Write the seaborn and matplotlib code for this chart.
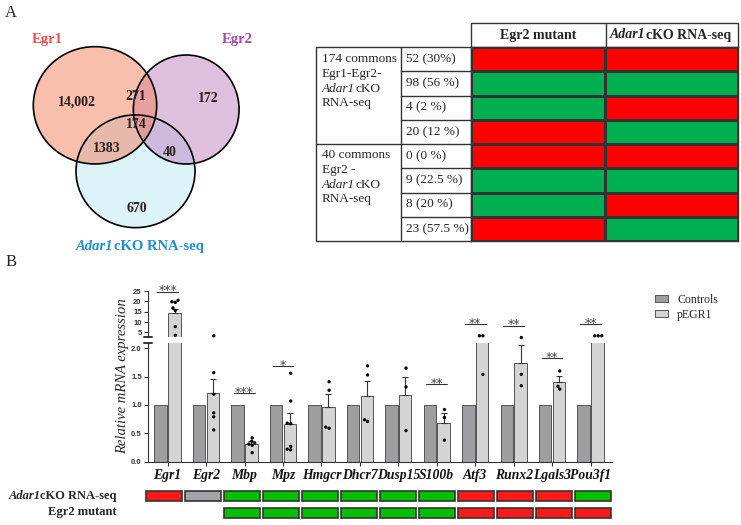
import numpy as np
import pandas as pd
import seaborn as sns
import matplotlib.pyplot as plt
from matplotlib.patches import Ellipse, Rectangle
from matplotlib.colors import ListedColormap, to_rgba

sns.set_style('ticks')
plt.rcParams['font.family'] = ['Liberation Serif', 'DejaVu Serif']

# ---------------- data ----------------
# Venn (A, left)
venn_names = ['Egr1', 'Egr2', 'Adar1cKO RNA-seq']
venn_regions = ['Egr1', 'Egr1&Egr2', 'Egr2', 'all', 'Egr1&Adar1', 'Egr2&Adar1', 'Adar1']
venn_counts = ['14,002', '271', '172', '174', '1383', '40', '670']

# table (A, right)
table_counts = ['52 (30%)', '98 (56 %)', '4 (2 %)', '20 (12 %)',
                '0 (0 %)', '9 (22.5 %)', '8 (20 %)', '23 (57.5 %)']
table_cols = ['Egr2 mutant', 'Adar1cKO RNA-seq']
table_egr2_mut = ['up', 'down', 'down', 'up', 'up', 'down', 'down', 'up']
table_adar1 = ['up', 'down', 'up', 'down', 'up', 'down', 'up', 'down']

# qPCR (B)
genes = ['Egr1', 'Egr2', 'Mbp', 'Mpz', 'Hmgcr', 'Dhcr7', 'Dusp15', 'S100b',
         'Atf3', 'Runx2', 'Lgals3', 'Pou3f1']
groups = ['Controls', 'pEGR1']
ctrl_mean = [1.0, 1.0, 1.0, 1.0, 1.0, 1.0, 1.0, 1.0, 1.0, 1.0, 1.0, 1.0]
pegr1_mean = [14.3, 1.21, 0.31, 0.66, 0.97, 1.16, 1.18, 0.69, 3.0, 1.74, 1.40, 3.0]
pegr1_sem = [1.8, 0.25, 0.05, 0.20, 0.22, 0.26, 0.32, 0.16, 0.5, 0.31, 0.11, 0.5]
# 2.22 = point drawn at the axis break (off scale)
pegr1_points = [
    [20.5, 19.5, 19.8, 16.8, 15.6, 7.8, 3.6],
    [2.22, 1.57, 1.19, 0.86, 0.79, 0.56],
    [0.42, 0.36, 0.33, 0.31, 0.29, 0.16],
    [1.56, 1.07, 0.68, 0.67, 0.27, 0.22, 0.21],
    [1.41, 1.26, 0.59, 0.61],
    [1.69, 1.53, 0.71, 0.74],
    [1.65, 1.32, 0.55],
    [0.92, 0.78, 0.38],
    [2.22, 2.22, 1.54],
    [2.19, 1.54, 1.34],
    [1.60, 1.33, 1.28],
    [2.22, 2.22, 2.22],
]
sig_stars = ['***', '', '***', '*', '', '', '', '**', '**', '**', '**', '**']
sig_y = [24.7, None, 1.21, 1.68, None, None, None, 1.365, 2.43, 2.40, 1.82, 2.43]

# regulation strips under B
strip_rows = ['Adar1cKO RNA-seq', 'Egr2 mutant']
strip_adar1 = ['up', 'na', 'down', 'down', 'down', 'down', 'down', 'down',
               'up', 'up', 'up', 'down']
strip_egr2 = [None, None, 'down', 'down', 'down', 'down', 'down', 'down',
              'up', 'up', 'up', 'up']

W, H = 741, 525
fig = plt.figure(figsize=(W / 100, H / 100), dpi=100)


def px_axes(x0, y0, x1, y1):
    # axes from pixel box (top-left origin)
    return fig.add_axes([x0 / W, 1 - y1 / H, (x1 - x0) / W, (y1 - y0) / H])


# overlay in pixel coordinates for the venn / table frame / labels
ov = fig.add_axes([0, 0, 1, 1])
ov.set_xlim(0, W)
ov.set_ylim(H, 0)
ov.axis('off')


def mixed(x, y, parts, ha='left', va='center', **kw):
    # parts: list of (text, fontstyle); baselines kept aligned
    if ha == 'left':
        t = ov.text(x, y, parts[0][0], style=parts[0][1], ha='left', va=va, **kw)
        for txt, st in parts[1:]:
            t = ov.annotate(txt, xy=(1, 0), xycoords=t, style=st, ha='left', va='bottom', **kw)
    else:
        t = ov.text(x, y, parts[-1][0], style=parts[-1][1], ha='right', va=va, **kw)
        for txt, st in parts[-2::-1]:
            t = ov.annotate(txt, xy=(0, 0), xycoords=t, style=st, ha='right', va='bottom', **kw)


ov.text(11, 13, 'A', fontsize=12, ha='center', va='center')
ov.text(11, 262, 'B', fontsize=12, ha='center', va='center')

# ---- Venn ----
# drawn bottom to top: Adar1, Egr2, Egr1
circles = [((135.5, 171.3), 119, 112.7, '#bbe9f5'),
           ((186.2, 109.5), 105.7, 109, '#bf81bf'),
           ((95, 105.3), 123.4, 117.3, '#f3815d')]
for (c, w, h, col) in circles:
    ov.add_patch(Ellipse(c, w, h, facecolor=to_rgba(col, 0.5), edgecolor='none'))
for (c, w, h, col) in circles:
    ov.add_patch(Ellipse(c, w, h, fill=False, edgecolor='black', lw=1.2))

ov.text(47, 40, venn_names[0], color='#f04e4e', fontsize=10.5, weight='bold', ha='center', va='center')
ov.text(237, 40, venn_names[1], color='#a64ca6', fontsize=10.5, weight='bold', ha='center', va='center')
mixed(76, 246.5, [('Adar1', 'italic'), ('cKO RNA-seq', 'normal')],
      color='#1e8fd8', fontsize=10.5, weight='bold')

venn_pos = [(77, 102), (136, 97), (208, 98), (136, 125), (107, 148), (170, 152), (137, 208)]
for (x, y), s in zip(venn_pos, venn_counts):
    ov.text(x, y, s, fontsize=10, weight='bold', color='#2a1f1f', ha='center', va='center')

# ---- table ----
tx0, tx1, tx2, tx3 = 316, 401, 471, 738
ty_head, ty0, ty1 = 23, 47, 241
row_h = (ty1 - ty0) / len(table_counts)
lc = '#333333'
ov.add_patch(Rectangle((tx0, ty0), tx2 - tx0, ty1 - ty0, fill=False, ec=lc, lw=1))
ov.add_patch(Rectangle((tx2, ty_head), tx3 - tx2, ty0 - ty_head, fill=False, ec=lc, lw=1))
ov.plot([tx1, tx1], [ty0, ty1], color=lc, lw=1)
ov.plot([606, 606], [ty_head, ty0], color=lc, lw=1)
for k in range(1, len(table_counts)):
    y = ty0 + k * row_h
    ov.plot([tx0 if k == 4 else tx1, tx2], [y, y], color=lc, lw=1)
for k, s in enumerate(table_counts):
    ov.text(406, ty0 + (k + 0.5) * row_h, s, fontsize=9.5, ha='left', va='center')

ov.text(538.5, 35, table_cols[0], fontsize=10, weight='bold', ha='center', va='center')
mixed(610, 35, [('Adar1', 'italic'), ('cKO RNA-seq', 'normal')], fontsize=10, weight='bold')

for y0, first, second in [(59.5, '174 commons', 'Egr1-Egr2-'), (155.5, '40 commons', 'Egr2 -')]:
    ov.text(322, y0, first, fontsize=9.5, va='center')
    ov.text(322, y0 + 14.5, second, fontsize=9.5, va='center')
    mixed(322, y0 + 29, [('Adar1', 'italic'), ('cKO', 'normal')], fontsize=9.5)
    ov.text(322, y0 + 43.5, 'RNA-seq', fontsize=9.5, va='center')

ax_tab = px_axes(tx2, ty0, tx3, ty1)
mat = pd.DataFrame({table_cols[0]: [1 if v == 'up' else 0 for v in table_egr2_mut],
                    table_cols[1]: [1 if v == 'up' else 0 for v in table_adar1]})
sns.heatmap(mat, cmap=ListedColormap(['#00b050', '#ff0000']), vmin=0, vmax=1, cbar=False,
            linewidths=0.8, linecolor=lc, xticklabels=False, yticklabels=False, ax=ax_tab)
for s in ax_tab.spines.values():
    s.set_visible(True)
    s.set_color(lc)
    s.set_linewidth(1)

# ---- bar chart (broken y axis) ----
df_bar = pd.DataFrame({'gene': genes * 2,
                       'group': ['Controls'] * len(genes) + ['pEGR1'] * len(genes),
                       'value': ctrl_mean + pegr1_mean})
df_pts = pd.DataFrame([(g, 'pEGR1', v) for g, vals in zip(genes, pegr1_points) for v in vals],
                      columns=['gene', 'group', 'value'])
pal = {'Controls': '#9d9da1', 'pEGR1': '#d4d4d4'}

ax_hi = px_axes(148, 291, 611.7, 336.5)
ax_lo = px_axes(148, 342.6, 611.7, 461.7)
for ax in (ax_lo, ax_hi):
    ax.patch.set_visible(False)

bar_kw = dict(x='gene', y='value', hue='group', order=genes, hue_order=groups, palette=pal,
              width=0.72, gap=0.1, errorbar=None, edgecolor='#555555', linewidth=0.7)
sns.barplot(data=df_bar, legend=True, ax=ax_lo, **bar_kw)
sns.barplot(data=df_bar[df_bar.gene == 'Egr1'], legend=False, ax=ax_hi, **bar_kw)

for ax in (ax_lo, ax_hi):
    for bar in ax.containers[1]:
        xc = bar.get_x() + bar.get_width() / 2
        i = int(round(xc))
        ax.errorbar(xc, bar.get_height(), yerr=[[0], [pegr1_sem[i]]], color='#333333',
                    lw=0.8, capsize=2.5, capthick=0.8)

sw_kw = dict(x='gene', y='value', hue='group', order=genes, hue_order=groups, dodge=True,
             palette={'Controls': 'black', 'pEGR1': 'black'}, size=2.4, legend=False)
sns.swarmplot(data=df_pts[df_pts.gene != 'Egr1'], ax=ax_lo, clip_on=False, **sw_kw)
sns.swarmplot(data=df_pts[df_pts.gene == 'Egr1'], ax=ax_hi, **sw_kw)

for ax in (ax_lo, ax_hi):
    ax.set_xlim(-0.51, 11.55)
    ax.set_xlabel('')
    ax.set_ylabel('')
    sns.despine(ax=ax)
    ax.spines['left'].set_color('#333333')
    ax.spines['bottom'].set_color('#333333')
    ax.tick_params(axis='y', labelsize=5.5, length=3, width=0.8, pad=1.5, colors='#333333')

ax_lo.set_ylim(0, 2.1)
ax_lo.set_yticks([0, 0.5, 1.0, 1.5, 2.0])
ax_lo.set_yticklabels(['0.0', '0.5', '1.0', '1.5', '2.0'], family='Liberation Sans', weight='bold')
ax_lo.tick_params(axis='x', length=3, width=0.8, pad=2, colors='#333333', labelcolor='#111111')
ax_lo.set_xticks(range(len(genes)))
ax_lo.set_xticklabels(genes, fontsize=9.8, style='italic', weight='bold')

ax_hi.set_ylim(3, 25)
ax_hi.set_yticks([5, 10, 15, 20, 25])
ax_hi.set_yticklabels(['5', '10', '15', '20', '25'], family='Liberation Sans', weight='bold')
ax_hi.spines['bottom'].set_visible(False)
ax_hi.set_xticks([])

# break marks
ax_lo.plot([-0.009, 0.008], [1, 1], transform=ax_lo.transAxes, color='#333333', lw=1.4, clip_on=False)
ax_hi.plot([-0.009, 0.008], [0, 0], transform=ax_hi.transAxes, color='#333333', lw=1.4, clip_on=False)

# significance
for i, (s, y) in enumerate(zip(sig_stars, sig_y)):
    if not s:
        continue
    tgt = ax_hi if genes[i] == 'Egr1' else ax_lo
    tgt.plot([i - 0.27, i + 0.27], [y, y], color='#333333', lw=0.8, clip_on=False)
    tgt.annotate(s, (i, y), xytext=(0, -2), textcoords='offset points', ha='center',
                 va='baseline', fontsize=9, family='DejaVu Sans', color='#444444',
                 annotation_clip=False)

fig.text(122.7 / W, 1 - 376 / H, 'Relative mRNA expression', rotation=90, style='italic',
         fontsize=10.5, ha='center', va='center')

sns.move_legend(ax_lo, 'upper left', bbox_to_anchor=(644 / W, 1 - 283 / H),
                bbox_transform=fig.transFigure, frameon=False, title=None, fontsize=8.5,
                handlelength=1.1, handleheight=0.6, labelspacing=0.25, handletextpad=0.8)

# ---- regulation strips ----
strip_col = {'up': '#ff1a1a', 'down': '#00c000', 'na': '#a2a2aa'}
ax_st = px_axes(145, 487.5, 612.3, 521.5)
for r, vals in enumerate([strip_adar1, strip_egr2]):
    idx = [i for i, v in enumerate(vals) if v is not None]
    ax_st.bar(idx, 0.6, bottom=r + 0.2, width=0.925,
              color=[strip_col[vals[i]] for i in idx], edgecolor='#333333', linewidth=1.2)
ax_st.set_xlim(-0.5, 11.5)
ax_st.set_ylim(2, 0)
ax_st.axis('off')

mixed(116.7, 495.7, [('Adar1', 'italic'), ('cKO RNA-seq', 'normal')], ha='right',
      fontsize=9, weight='bold')
ov.text(116.7, 512.5, strip_rows[1], fontsize=9, weight='bold', ha='right', va='center')

fig.savefig('out.png', dpi=100)
